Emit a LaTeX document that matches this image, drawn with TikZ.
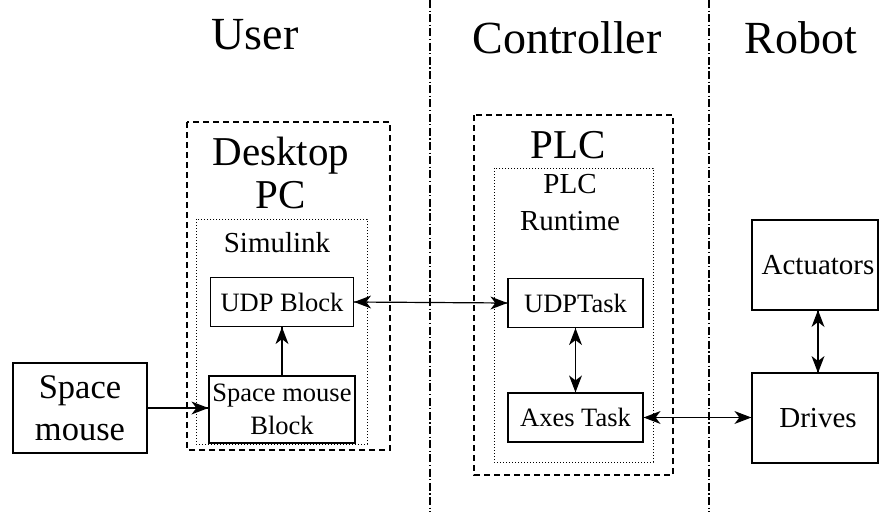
\documentclass[tikz,border=0pt]{standalone}
\usepackage{fontspec}
\setmainfont{Liberation Serif}
\begin{document}
\begin{tikzpicture}[x=1pt,y=-1pt,
  box/.style={draw, line width=1.2pt, rectangle, inner sep=0pt, align=center},
  group/.style={draw, line width=1.1pt, dash pattern=on 6pt off 4pt},
  subgroup/.style={draw, line width=1pt, dash pattern=on 1pt off 2pt},
  divider/.style={line width=1.1pt, dash pattern=on 8pt off 2.5pt on 1.2pt off 2.5pt},
  conn/.style={line width=1.2pt},
  head/.style={fill=black, draw=none},
  titletext/.style={font=\fontsize{46}{50}\selectfont, anchor=base, inner sep=0pt},
  headingtext/.style={font=\fontsize{41}{43}\selectfont, anchor=base, inner sep=0pt},
  grouptext/.style={font=\fontsize{29}{35}\selectfont, anchor=base, inner sep=0pt},
  smallfont/.style={font=\fontsize{26.5}{33}\selectfont},
  midfont/.style={font=\fontsize{29}{35}\selectfont},
  bigfont/.style={font=\fontsize{34.5}{42}\selectfont},
]
\useasboundingbox (0,0) rectangle (879,512);

% domain separators
\draw[divider] (430,0) -- (430,512);
\draw[divider] (709,0) -- (709,512);

% domain titles
\node[titletext] (tuser) at (255,49) {User};
\node[titletext] (tctrl) at (567,53) {Controller};
\node[titletext] (trobot) at (801,53) {Robot};

% desktop PC with Simulink
\draw[group] (187,122) rectangle (390,450);
\node[headingtext] (hdesk) at (281,165) {Desktop};
\node[headingtext] (hpc) at (281,208) {PC};
\draw[subgroup] (196,219) rectangle (367,444);
\node[grouptext] (hsim) at (277,252) {Simulink};

% PLC with runtime
\draw[group] (474,115) rectangle (673,475);
\node[headingtext] (hplc) at (568,158) {PLC};
\draw[subgroup] (494,168) rectangle (653,462);
\node[grouptext] (hrt1) at (570,193) {PLC};
\node[grouptext] (hrt2) at (570,230) {Runtime};

% blocks
\node[box, bigfont, minimum width=134pt, minimum height=90pt] (mouse) at (80,408) {Space\\mouse};
\node[box, smallfont, minimum width=146pt, minimum height=67pt] (smb) at (282,409.5) {Space mouse\\Block};
\node[box, smallfont, minimum width=143pt, minimum height=49pt] (udpb) at (282,302) {UDP Block};
\node[box, smallfont, minimum width=135pt, minimum height=49pt] (udpt) at (575.5,303) {UDPTask};
\node[box, smallfont, minimum width=135pt, minimum height=49pt] (axes) at (575.5,417.5) {Axes Task};
\node[box, midfont, minimum width=126pt, minimum height=90pt] (act) at (815,265) {\hspace*{6pt}Actuators};
\node[box, midfont, minimum width=126pt, minimum height=90pt] (drv) at (815,418) {\hspace*{6pt}Drives};

% end points of the connectors
\coordinate (mouseout) at (mouse.east);
\coordinate (smbin) at (mouse.east -| smb.west);
\coordinate (drvin) at (axes.east -| drv.west);
\coordinate (acttop) at (818,310);
\coordinate (drvtop) at (818,373);

% connectors
\draw[conn] (mouseout) -- (smbin);
\draw[conn] (smb.north) -- (udpb.south);
\draw[conn] (udpb.east) -- (udpt.west);
\draw[conn] (udpt.south) -- (axes.north);
\draw[conn] (axes.east) -- (drvin);
\draw[conn] (acttop) -- (drvtop);

% stealth arrow heads
\fill[head] (smbin) -- ++(-17,-6.5) -- ++(5,6.5) -- ++(-5,6.5) -- cycle;
\fill[head] (udpb.south) -- ++(-6.5,17) -- ++(6.5,-5) -- ++(6.5,5) -- cycle;
\fill[head] (udpb.east) -- ++(17,-6.5) -- ++(-5,6.5) -- ++(5,6.5) -- cycle;
\fill[head] (udpt.west) -- ++(-17,-6.5) -- ++(5,6.5) -- ++(-5,6.5) -- cycle;
\fill[head] (udpt.south) -- ++(-6.5,17) -- ++(6.5,-5) -- ++(6.5,5) -- cycle;
\fill[head] (axes.north) -- ++(-6.5,-17) -- ++(6.5,5) -- ++(6.5,-5) -- cycle;
\fill[head] (axes.east) -- ++(17,-6.5) -- ++(-5,6.5) -- ++(5,6.5) -- cycle;
\fill[head] (drvin) -- ++(-17,-6.5) -- ++(5,6.5) -- ++(-5,6.5) -- cycle;
\fill[head] (acttop) -- ++(-6.5,17) -- ++(6.5,-5) -- ++(6.5,5) -- cycle;
\fill[head] (drvtop) -- ++(-6.5,-17) -- ++(6.5,5) -- ++(6.5,-5) -- cycle;
\end{tikzpicture}
\end{document}
